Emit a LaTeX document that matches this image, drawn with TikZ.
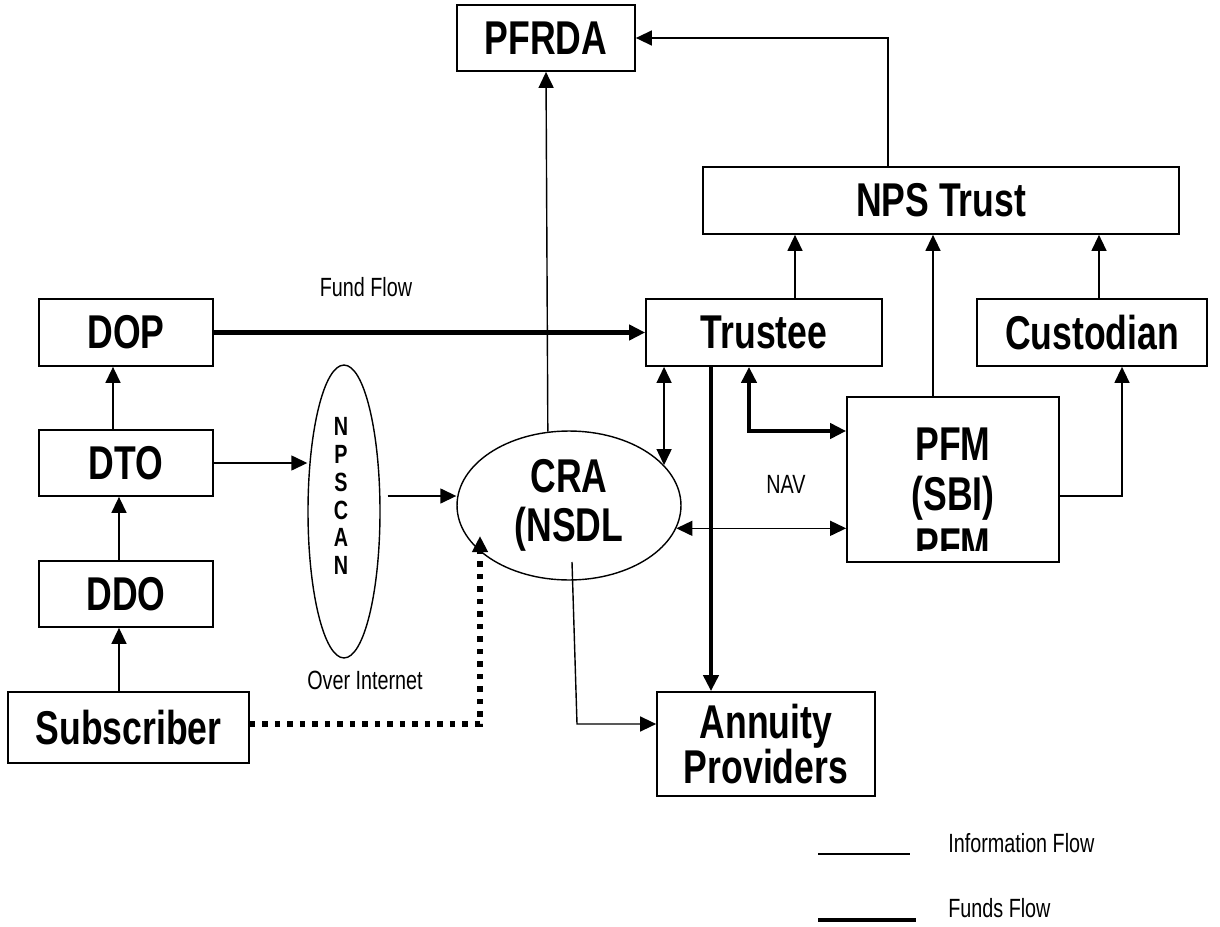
\documentclass[tikz,border=0pt]{standalone}
\usepackage{fontspec}
\setmainfont{Liberation Sans}[FakeStretch=0.75]
\usetikzlibrary{arrows.meta,shapes.geometric,calc}

\begin{document}
\begin{tikzpicture}[x=0.02cm, y=-0.02cm,
        >={Triangle[length=3.2mm,width=3mm]},
        box/.style={draw, line width=1pt, inner sep=0pt},
        big/.style={font=\bfseries\fontsize{27}{31}\selectfont},
        small/.style={font=\fontsize{15}{18}\selectfont, inner sep=0pt},
        info/.style={line width=0.8pt, ->},
        fund/.style={line width=2.8pt, ->},
        dotline/.style={line width=3pt, dash pattern=on 0.11cm off 0.14cm, ->}]
    \useasboundingbox (0,0) rectangle (1220,926);

    % regulator and trust
    \node[box, big, minimum width=3.56cm, minimum height=1.32cm] (pfrda) at (546,38) {PFRDA};
    \node[box, big, minimum width=9.52cm, minimum height=1.34cm] (nps) at (941,200.5) {NPS Trust};
    \node[box, big, minimum width=4.72cm, minimum height=1.34cm] (trustee) at (764,332.5) {Trustee};
    \node[box, big, minimum width=4.6cm, minimum height=1.34cm] (cust) at (1092,332.5) {Custodian};

    % fund manager, text cut at the bottom
    \node[box, minimum width=4.24cm, minimum height=3.3cm] (pfm) at (953,479.5) {};
    \begin{scope}
        \clip (pfm.north west) rectangle ($(pfm.south east)+(0,-12)$);
        \node[big, align=center, inner sep=0pt, font=\bfseries\fontsize{27}{28.7}\selectfont] (pfmtext) at (953,494.5) {PFM\\(SBI)\\PFM};
    \end{scope}

    \node[box, big, align=center, minimum width=4.36cm, minimum height=2.08cm, font=\bfseries\fontsize{27}{26}\selectfont] (annuity) at (766,744) {Annuity\\Providers};

    % left column
    \node[box, big, minimum width=3.48cm, minimum height=1.34cm] (dop) at (126,332.5) {DOP};
    \node[box, big, minimum width=3.48cm, minimum height=1.32cm] (dto) at (126,463) {DTO};
    \node[box, big, minimum width=3.48cm, minimum height=1.32cm] (ddo) at (126,594) {DDO};
    \node[box, big, minimum width=4.82cm, minimum height=1.42cm] (subs) at (128.5,727.5) {Subscriber};

    % the two ellipses
    \node[draw, ellipse, line width=0.8pt, inner sep=0pt, minimum width=1.44cm, minimum height=5.86cm] (npscan) at (344,511.5) {};
    \node[font=\bfseries\fontsize{15}{15.9}\selectfont, align=center, inner sep=0pt] (npstext) at (341,496) {N\\P\\S\\C\\A\\N};
    \node[draw, ellipse, line width=0.8pt, inner sep=0pt, align=center, minimum width=4.48cm, minimum height=2.98cm, font=\bfseries\fontsize{27}{28}\selectfont] (cra) at (569,505.5) {CRA\\(NSDL};

    % labels
    \node[small] (fundlbl) at (366,287) {Fund Flow};
    \node[small] (netlbl) at (365,680) {Over Internet};
    \node[small] (navlbl) at (786,484) {NAV};

    % information flow
    \draw[info] (cra.106) -- (pfrda.south);
    \draw[info] (888,0 |- nps.north) |- (pfrda.east);
    \draw[info] (795,0 |- trustee.north) -- (795,0 |- nps.south);
    \draw[info] (933,0 |- pfm.north) -- (933,0 |- nps.south);
    \draw[info] (1099,0 |- cust.north) -- (1099,0 |- nps.south);
    \draw[info] (pfm.east |- 0,496) -| (1122,0 |- cust.south);
    \draw[info] (113,0 |- dto.north) -- (113,0 |- dop.south);
    \draw[info] (119,0 |- ddo.north) -- (119,0 |- dto.south);
    \draw[info] (119,0 |- subs.north) -- (119,0 |- ddo.south);
    \draw[info] (dto.east) -- (dto.east -| npscan.west);
    \draw[info] ($(npscan.east)+(7,-15.5)$) -- (cra.west |- 0,496);
    \draw[info, <->] (cra.23) -- (cra.23 |- trustee.south);
    \draw[info, <->] (cra.348) -- (cra.348 -| pfm.west);
    \coordinate (craout) at (572,562);
    \draw[info] (craout) -- (577,724) -- (annuity.west |- 0,724);

    % funds flow
    \draw[fund] (dop.east) -- (trustee.west);
    \draw[fund] (711,0 |- trustee.south) -- (711,0 |- annuity.north);
    \draw[fund, <->] (749,0 |- trustee.south) |- (pfm.west |- 0,431);

    % subscriber over internet
    \coordinate (crain) at (480,536);
    \draw[dotline] (subs.east |- 0,724) -| (crain);

    % legend
    \coordinate (infoA) at (818,854);
    \coordinate (infoB) at (910,854);
    \coordinate (fundA) at (818,920);
    \coordinate (fundB) at (916,920);
    \draw[line width=0.8pt] (infoA) -- (infoB);
    \draw[line width=2.8pt] (fundA) -- (fundB);
    \node[small, anchor=west] (infolbl) at (948,843) {Information Flow};
    \node[small, anchor=west] (fundslbl) at (948,908) {Funds Flow};
\end{tikzpicture}
\end{document}
